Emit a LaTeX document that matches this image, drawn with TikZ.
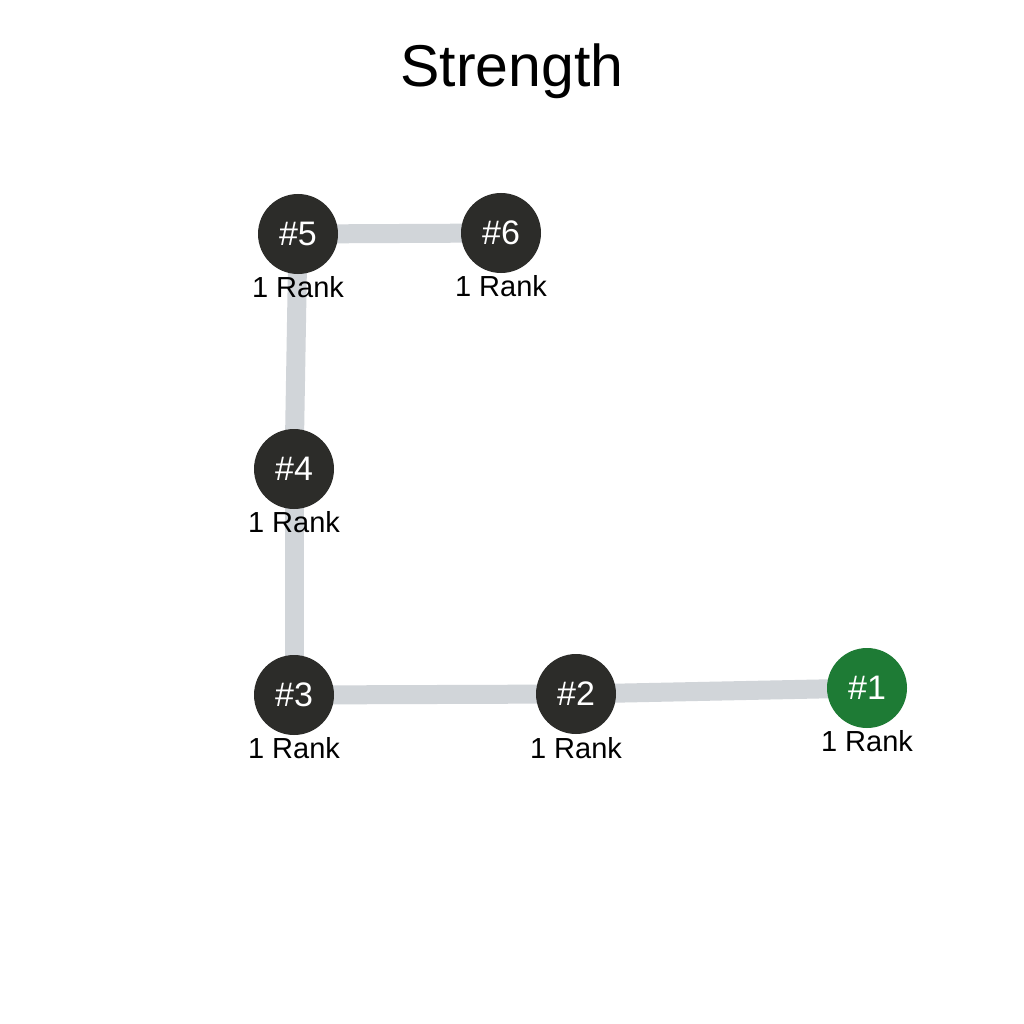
\documentclass[tikz,border=0pt]{standalone}
\usepackage{fontspec}
\setmainfont{Liberation Sans}
\definecolor{nodedark}{HTML}{2C2C29}
\definecolor{nodegreen}{HTML}{1E7B35}
\definecolor{edgegray}{HTML}{D1D5D9}
\tikzset{
  rank/.style={circle, fill=nodedark, text=white, minimum size=80pt, inner sep=0pt, font=\fontsize{34}{34}\selectfont},
  rankgreen/.style={rank, fill=nodegreen},
  ranklabel/.style={font=\fontsize{29}{29}\selectfont, text=black, inner sep=0pt},
  link/.style={draw=edgegray, line width=19pt},
}
\begin{document}
\begin{tikzpicture}[x=1pt,y=-1pt]
\useasboundingbox[fill=white] (0,0) rectangle (1024,1024);
\node[font=\fontsize{59}{59}\selectfont, anchor=base, inner sep=0pt] (title) at (512,87) {Strength};
\coordinate (p5) at (298,234);
\coordinate (p6) at (501,233);
\coordinate (p4) at (294,469);
\coordinate (p3) at (294,695);
\coordinate (p2) at (576,694);
\coordinate (p1) at (867,688);
\draw[link] (p5) -- (p6);
\draw[link] (p5) -- (p4);
\draw[link] (p4) -- (p3);
\draw[link] (p3) -- (p2);
\draw[link] (p2) -- (p1);
\node[rank] (n5) at (p5) {\#5};
\node[rank] (n6) at (p6) {\#6};
\node[rank] (n4) at (p4) {\#4};
\node[rank] (n3) at (p3) {\#3};
\node[rank] (n2) at (p2) {\#2};
\node[rankgreen] (n1) at (p1) {\#1};
\node[ranklabel] (l5) at (298,287) {1 Rank};
\node[ranklabel] (l6) at (501,286) {1 Rank};
\node[ranklabel] (l4) at (294,522) {1 Rank};
\node[ranklabel] (l3) at (294,748) {1 Rank};
\node[ranklabel] (l2) at (576,748) {1 Rank};
\node[ranklabel] (l1) at (867,741) {1 Rank};
\end{tikzpicture}
\end{document}
